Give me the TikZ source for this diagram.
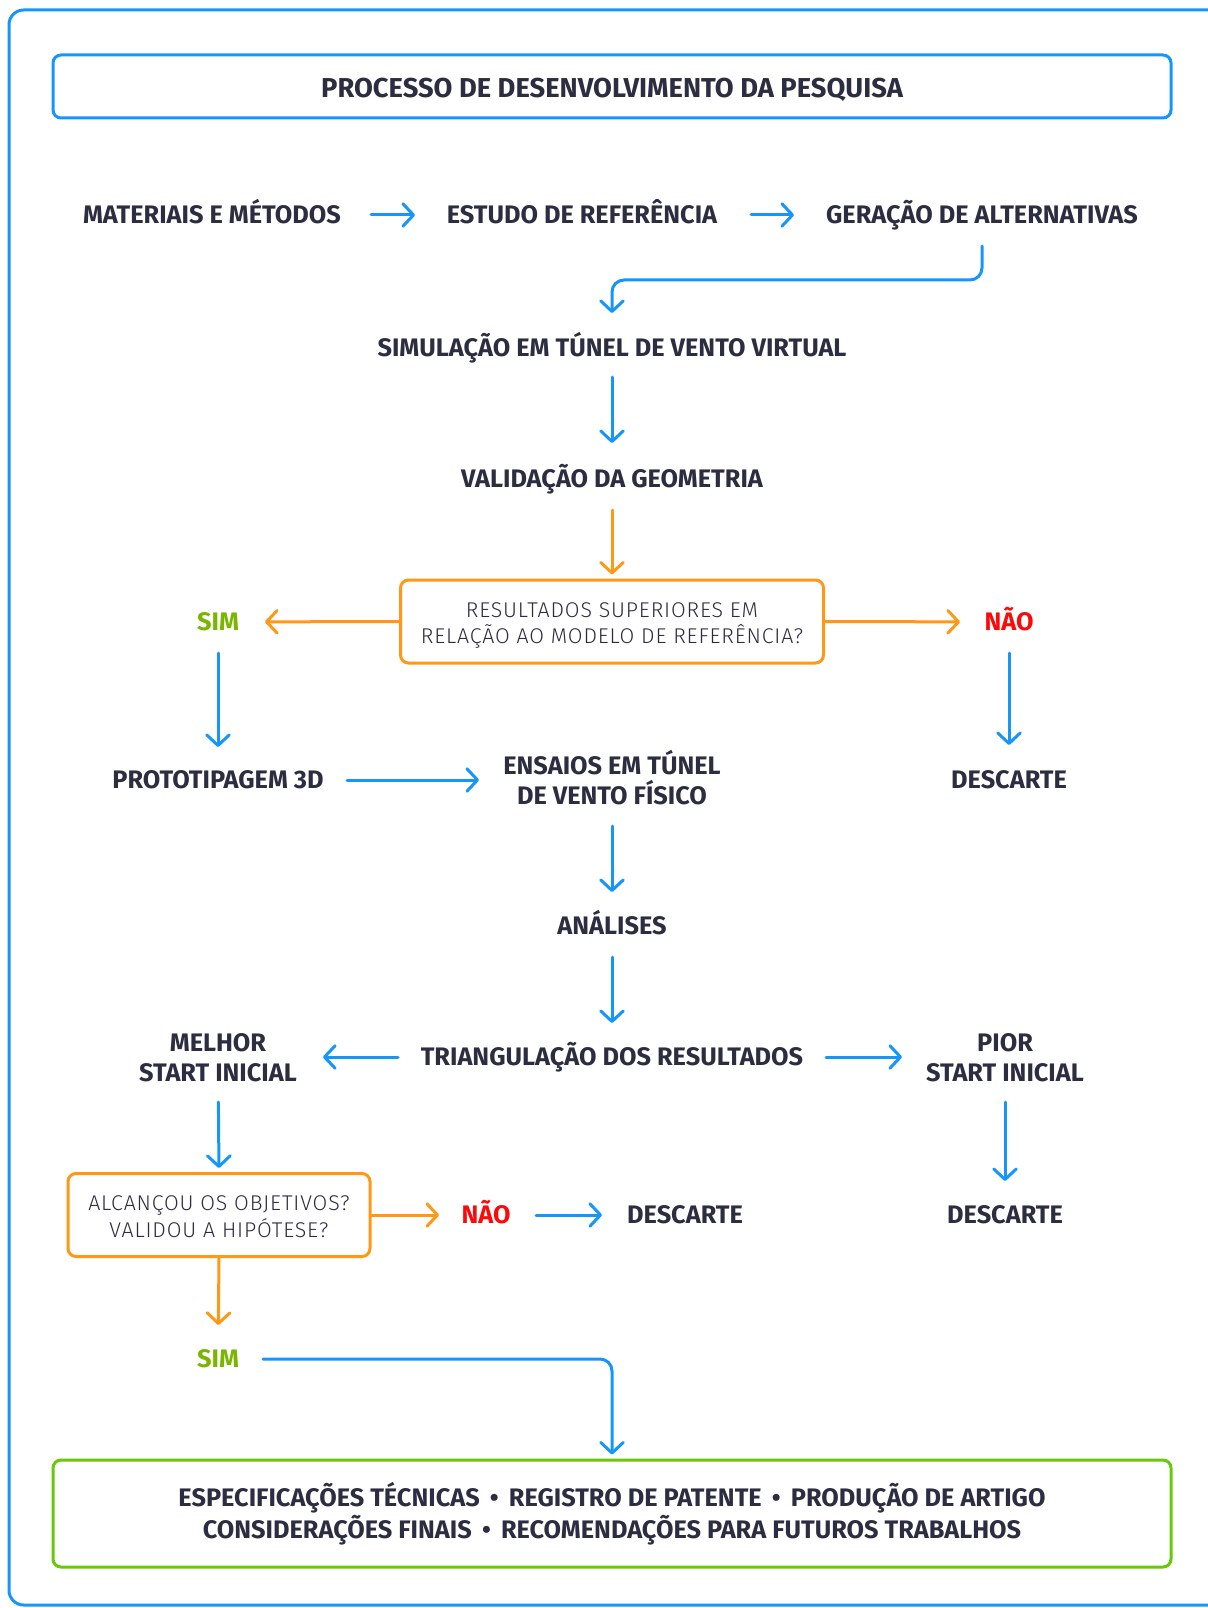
\documentclass[tikz,border=0pt]{standalone}
\usepackage{fontspec}
\setmainfont{Fira Sans}
\IfFontExistsTF{Fira Sans Light}{\newfontfamily\lightfont[LetterSpace=4]{Fira Sans Light}}{\newfontfamily\lightfont[LetterSpace=4]{Fira Sans}}
\usetikzlibrary{arrows.meta,calc}
\definecolor{cblue}{RGB}{22,150,250}
\definecolor{corange}{RGB}{255,152,20}
\definecolor{cgreen}{RGB}{104,200,10}
\definecolor{simgreen}{RGB}{122,182,0}
\definecolor{naored}{RGB}{250,10,10}
\definecolor{ink}{RGB}{45,45,66}
\begin{document}
\begin{tikzpicture}[x=0.75pt,y=-0.75pt,
  tipb/.tip={Straight Barb[length=8pt,width=17pt,line cap=round,line join=round]},
  barr/.style={draw=cblue,line width=2.25pt,line cap=round,-tipb},
  oarr/.style={draw=corange,line width=2.25pt,line cap=round,-tipb},
  lbl/.style={font=\fontsize{19}{22.5}\selectfont\bfseries,text=ink,inner sep=0pt,align=center,text height=13.1pt,text depth=0pt},
  lbltwo/.style={font=\fontsize{19}{22.5}\selectfont\bfseries,text=ink,inner sep=0pt,align=center},
  decbox/.style={draw=corange,line width=2.25pt,rounded corners=6pt,fill=white,
    font=\lightfont\fontsize{16}{20}\selectfont,text=ink,align=center,inner sep=0pt},
  bigbox/.style={draw,line width=2.25pt,rounded corners=6pt,minimum width=838.5pt,inner sep=0pt,
    text=ink,align=center}
]
\useasboundingbox (0,0) rectangle (1207,1608);
% outer frame
\draw[cblue,line width=2.25pt,rounded corners=11pt] (9,10) rectangle (1230,1605);

% title
\node[bigbox,draw=cblue,minimum height=47.25pt,font=\fontsize{20.5}{24}\selectfont\bfseries,
  text height=16.3pt,text depth=0pt] (title) at (612,86.5) {PROCESSO DE DESENVOLVIMENTO DA PESQUISA};

% row 1
\node[lbl] (mat) at (212,215) {MATERIAIS E MÉTODOS};
\node[lbl] (est) at (582,215) {ESTUDO DE REFERÊNCIA};
\node[lbl] (gen) at (982,215) {GERAÇÃO DE ALTERNATIVAS};

\node[lbl] (sim) at (612,348) {SIMULAÇÃO EM TÚNEL DE VENTO VIRTUAL};
\node[lbl] (val) at (612,479) {VALIDAÇÃO DA GEOMETRIA};

\node[decbox,minimum width=317.25pt,minimum height=62.25pt] (dec1) at (612,621.5)
  {\rule{0pt}{17pt}RESULTADOS SUPERIORES EM\\RELAÇÃO AO MODELO DE REFERÊNCIA?};
\node[lbl,text=simgreen] (sim1) at (218,622) {SIM};
\node[lbl,text=naored] (nao1) at (1009,622) {NÃO};

\node[lbl] (proto) at (218,780) {PROTOTIPAGEM 3D};
\node[lbltwo] (ens) at (612,778) {ENSAIOS EM TÚNEL\\DE VENTO FÍSICO};
\node[lbl] (desc1) at (1009,780) {DESCARTE};

\node[lbl] (ana) at (612,926) {ANÁLISES};
\node[lbl] (tri) at (612,1057) {TRIANGULAÇÃO DOS RESULTADOS};
\node[lbltwo] (mel) at (218,1058) {MELHOR\\START INICIAL};
\node[lbltwo] (pior) at (1005,1058) {PIOR\\START INICIAL};

\node[decbox,minimum width=226.5pt,minimum height=62.25pt] (dec2) at (219,1215)
  {\rule{0pt}{14pt}ALCANÇOU OS OBJETIVOS?\\VALIDOU A HIPÓTESE?};
\node[lbl,text=naored] (nao2) at (486,1215) {NÃO};
\node[lbl] (desc2) at (685,1215) {DESCARTE};
\node[lbl] (desc3) at (1005,1215) {DESCARTE};
\node[lbl,text=simgreen] (sim2) at (218,1359) {SIM};

\node[bigbox,draw=cgreen,minimum height=80.25pt,font=\fontsize{19}{24}\selectfont\bfseries] (final) at (612,1513.5)
  {\rule{0pt}{16.5pt}ESPECIFICAÇÕES TÉCNICAS \,•\, REGISTRO DE PATENTE \,•\, PRODUÇÃO DE ARTIGO\\
   CONSIDERAÇÕES FINAIS \,•\, RECOMENDAÇÕES PARA FUTUROS TRABALHOS};

% connectors
\draw[barr,shorten <=119.25pt,shorten >=125.25pt] (mat.center) -- (est.center);
\draw[barr,shorten <=126.75pt,shorten >=141pt] (est.center) -- (gen.center);
\draw[barr,rounded corners=9pt,shorten <=23.25pt,shorten >=26.25pt] (gen.center) -- ++(0,65) -| (sim.center);
\draw[barr,shorten <=21.75pt,shorten >=27pt] (sim.center) -- (val.center);
\draw[oarr,shorten <=23.25pt,shorten >=3pt] (val.center) -- (dec1.north);
\draw[oarr,shorten >=35.25pt] (dec1.west) -- (sim1.center);
\draw[oarr,shorten >=36.75pt] (dec1.east) -- (nao1.center);
\draw[barr,shorten <=23.25pt,shorten >=24.75pt] (sim1.center) -- (proto.center);
\draw[barr,shorten <=23.25pt,shorten >=26.25pt] (nao1.center) -- (desc1.center);
\draw[barr,shorten <=96.75pt,shorten >=99.75pt] (proto.center) -- (proto.center -| ens.center);
\draw[barr,shorten <=36pt,shorten >=25.5pt] (ens.center) -- (ana.center);
\draw[barr,shorten <=23.25pt,shorten >=25.5pt] (ana.center) -- (tri.center);
\draw[barr,shorten <=160.5pt,shorten >=78.75pt] (tri.center) -- (tri.center -| mel.center);
\draw[barr,shorten <=160.5pt,shorten >=77.25pt] (tri.center) -- (tri.center -| pior.center);
\draw[barr,shorten <=33pt,shorten >=3pt] (mel.center) -- (dec2.north);
\draw[barr,shorten <=33pt,shorten >=25.5pt] (pior.center) -- (desc3.center);
\draw[oarr,shorten >=35.25pt] (dec2.east) -- (nao2.center);
\draw[barr,shorten <=37.5pt,shorten >=62.25pt] (nao2.center) -- (desc2.center);
\draw[oarr,shorten >=25.5pt] (dec2.south) -- (sim2.center);
\draw[barr,rounded corners=9pt,shorten <=33.75pt,shorten >=3pt] (sim2.center) -| (final.north);
\end{tikzpicture}
\end{document}
